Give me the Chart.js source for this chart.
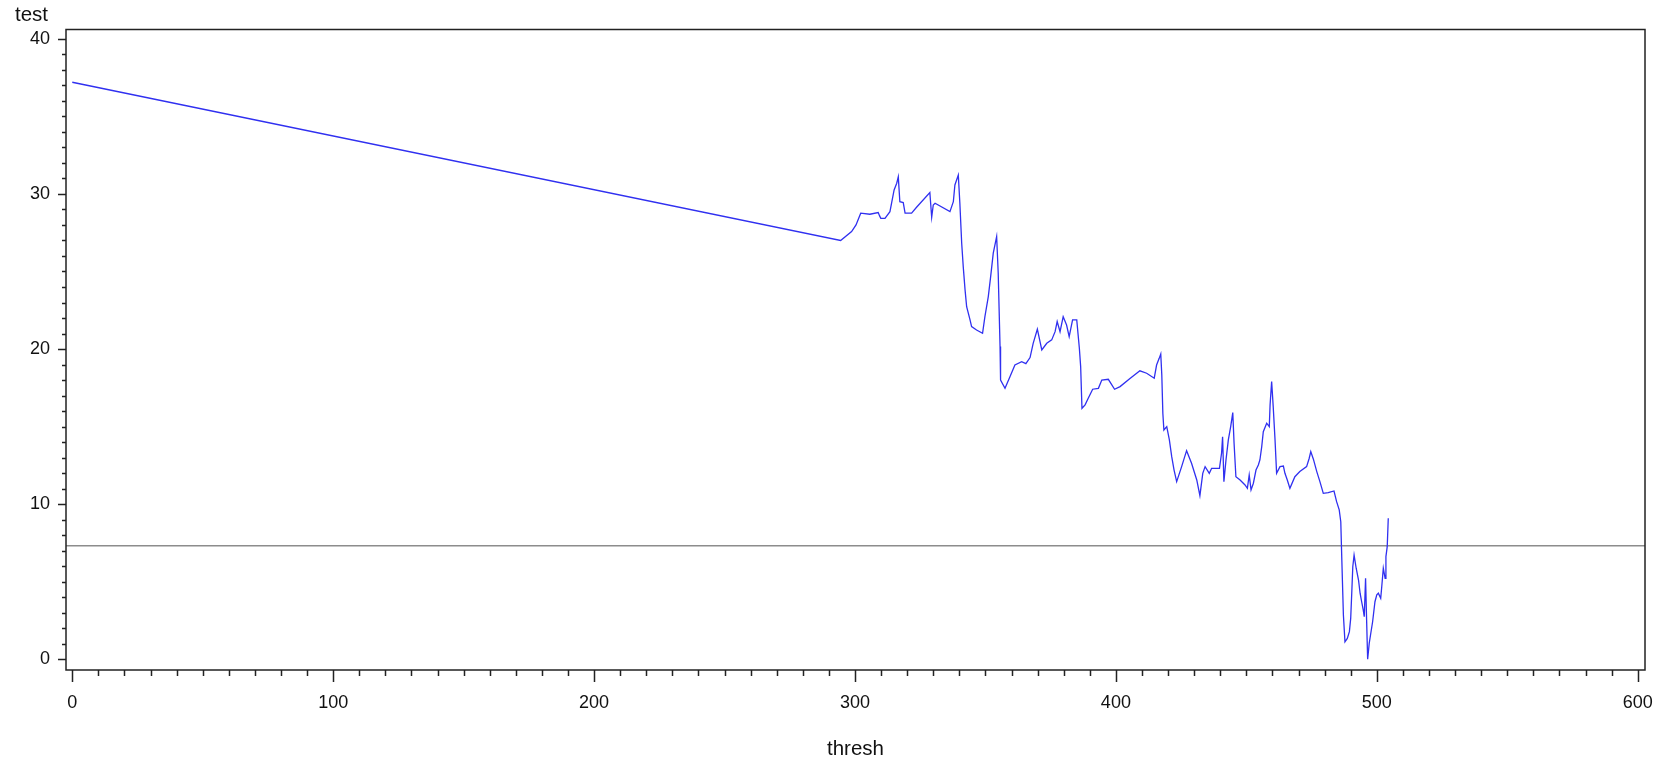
<!DOCTYPE html>
<html>
<head>
<meta charset="utf-8">
<script src="https://cdn.jsdelivr.net/npm/chart.js@4.4.1/dist/chart.umd.min.js"></script>
<style>
  html, body { margin: 0; padding: 0; background: #fff; }
  canvas { display: block; }
</style>
</head>
<body>
<canvas id="chart" width="1661" height="762"></canvas>
<script>
const thresh = [
  0, 294.5, 298.7, 300.4, 302.2, 305.7, 308.9, 309.4, 309.9, 311.5,
  313.4, 315, 316, 316.6, 317.2, 318.5, 319.2, 321.7, 323.6, 328.7,
  329.4, 330, 330.7, 336.4, 337.7, 338.3, 339.6, 340.2, 340.9, 341.5,
  342.2, 342.8, 344.1, 344.7, 346.6, 348.9, 349.8, 351.1, 352, 353,
  354.3, 354.9, 355.6, 355.8, 357.5, 359.4, 361.3, 363.9, 365.5, 367.1,
  368.3, 369.9, 371.6, 373.5, 375.4, 376.7, 377.5, 378.6, 379.8, 381.1,
  382.1, 383.4, 385, 386, 386.5, 387, 388.2, 389.4, 391.1, 393.3,
  394.6, 397.1, 399.5, 401.6, 405.4, 409.2, 411.8, 414.7, 415.6, 416.6,
  417.2, 417.6, 418, 418.4, 419.5, 420.5, 421.4, 422.3, 423.3, 425.2,
  427.1, 429, 431, 432.2, 433.3, 434.2, 435.8, 436.7, 439.7, 440.5,
  440.9, 441.4, 442.2, 443.1, 444, 444.8, 445.3, 446, 447.6, 449.5,
  450.4, 451.1, 451.8, 452.7, 453.7, 454.6, 455.2, 455.9, 456.5, 457.8,
  458.8, 459.1, 459.7, 460.3, 461, 461.6, 462.9, 464.2, 464.8, 465.7,
  466.7, 468.6, 470.5, 473.1, 474.1, 474.7, 475.7, 477, 478.2, 479.5,
  481.4, 483.6, 484.6, 485.6, 486.2, 486.6, 487.2, 487.8, 488.7, 489.5,
  490, 490.4, 490.8, 491.3, 492.1, 493, 493.6, 494.2, 494.8, 495.2,
  495.7, 496.1, 496.5, 497.1, 497.7, 498.4, 499.3, 500, 500.6, 501.5,
  501.9, 502.5, 503.2, 503.5, 504, 504.4
]
const test = [
  37.2, 27.0, 27.57, 28.0, 28.76, 28.69, 28.8, 28.6, 28.43, 28.43,
  28.86, 30.26, 30.69, 31.1, 29.5, 29.44, 28.76, 28.76, 29.14, 30.09,
  28.5, 29.29, 29.4, 28.86, 29.5, 30.58, 31.22, 29.4, 26.82, 25.3,
  23.8, 22.73, 21.88, 21.45, 21.23, 21.02, 22.09, 23.38, 24.67, 26.18,
  27.25, 24.89, 20.16, 18.0, 17.47, 18.22, 18.97, 19.19, 19.06, 19.45,
  20.37, 21.28, 19.94, 20.37, 20.59, 21.12, 21.77, 21.12, 22.09, 21.55,
  20.8, 21.88, 21.88, 20.05, 18.87, 16.18, 16.4, 16.83, 17.41, 17.47,
  18.0, 18.05, 17.41, 17.58, 18.1, 18.6, 18.44, 18.12, 18.97, 19.4,
  19.68, 18.33, 15.86, 14.78, 15.0, 14.14, 13.06, 12.2, 11.45, 12.42,
  13.45, 12.64, 11.56, 10.55, 11.99, 12.42, 11.99, 12.31, 12.31, 13.28,
  14.35, 11.45, 12.85, 14.14, 15.0, 15.9, 13.93, 11.77, 11.56, 11.24,
  11.02, 11.88, 10.92, 11.35, 12.2, 12.53, 12.85, 13.71, 14.67, 15.22,
  15.0, 16.4, 17.9, 16.29, 14.14, 11.99, 12.42, 12.46, 11.99, 11.56,
  11.02, 11.77, 12.1, 12.42, 12.96, 13.39, 12.9, 12.1, 11.45, 10.7,
  10.74, 10.85, 10.16, 9.63, 8.87, 6.4, 2.86, 1.13, 1.35, 1.78,
  2.64, 4.26, 5.97, 6.72, 5.87, 5.11, 4.26, 3.71, 3.18, 2.75,
  5.22, 2.53, 0.0, 1.03, 1.68, 2.42, 3.71, 4.15, 4.26, 3.93,
  4.68, 5.87, 5.22, 6.62, 7.26, 9.09
]
const xTicks = [0, 100, 200, 300, 400, 500, 600]
const yTicks = [0, 10, 20, 30, 40]
const refValue = 7.32
const xMin = -2.4, xMax = 602.8
const yMin = -0.69, yMax = 40.6

const font = { family: 'Liberation Sans, Arial, sans-serif', size: 18 }
const titleFont = { family: 'Liberation Sans, Arial, sans-serif', size: 20.5, weight: 'normal' }

// frame round the plot area plus SAS-style major/minor tick marks
const framePlugin = {
    id: 'frame',
    afterDraw(chart) {
        const { ctx, chartArea: a, scales: { x, y } } = chart
        ctx.save()
        ctx.strokeStyle = '#222'
        ctx.lineWidth = 1.5
        ctx.strokeRect(a.left, a.top, a.right - a.left, a.bottom - a.top)
        ctx.beginPath()
        for (let v = 0; v <= 600; v += 10) {
            const px = Math.round(x.getPixelForValue(v)) + 0.5
            ctx.moveTo(px, a.bottom)
            ctx.lineTo(px, a.bottom + (v % 100 === 0 ? 12 : 6))
        }
        for (let v = 0; v <= 40; v += 1) {
            const py = Math.round(y.getPixelForValue(v)) + 0.5
            ctx.moveTo(a.left, py)
            ctx.lineTo(a.left - (v % 10 === 0 ? 8 : 4), py)
        }
        ctx.stroke()
        ctx.restore()
    }
}

const ctx = document.getElementById('chart').getContext('2d')

const chart = new Chart(ctx, {
    type: 'line',
    data: {
        datasets: [{
            label: 'test',
            data: thresh.map((t, i) => ({ x: t, y: test[i] })),
            borderColor: '#3030f0',
            borderWidth: 1.3,
            pointRadius: 0,
            tension: 0,
        }, {
            label: 'ref',
            data: [{ x: xMin, y: refValue }, { x: xMax, y: refValue }],
            borderColor: '#8c8c8c',
            borderWidth: 1.6,
            pointRadius: 0,
        }]
    },
    options: {
        responsive: false,
        animation: false,
        layout: { padding: { left: 15, right: 16, top: 0, bottom: 0 } },
        plugins: {
            legend: { display: false },
            tooltip: { enabled: false },
            title: {
                display: true,
                text: 'test',
                align: 'start',
                color: '#111',
                font: titleFont,
                padding: { top: 3.5, bottom: 1.4 },
            },
        },
        scales: {
            x: {
                type: 'linear',
                min: xMin,
                max: xMax,
                afterBuildTicks: s => { s.ticks = xTicks.map(v => ({ value: v })) },
                afterFit: s => { s.height = 92; s.paddingLeft = 0; s.paddingRight = 0 },
                grid: { display: false, drawTicks: false },
                border: { display: false },
                ticks: { color: '#111', font, padding: 22.5, maxRotation: 0, autoSkip: false },
                title: { display: true, text: 'thresh', color: '#111', font: titleFont, padding: { top: 0, bottom: 0.7 } },
            },
            y: {
                type: 'linear',
                min: yMin,
                max: yMax,
                afterBuildTicks: s => { s.ticks = yTicks.map(v => ({ value: v })) },
                afterFit: s => { s.width = 51; s.paddingTop = 0; s.paddingBottom = 0 },
                grid: { display: false, drawTicks: false },
                border: { display: false },
                ticks: { color: '#111', font, padding: 16 },
            }
        }
    },
    plugins: [framePlugin]
})
</script>
</body>
</html>
